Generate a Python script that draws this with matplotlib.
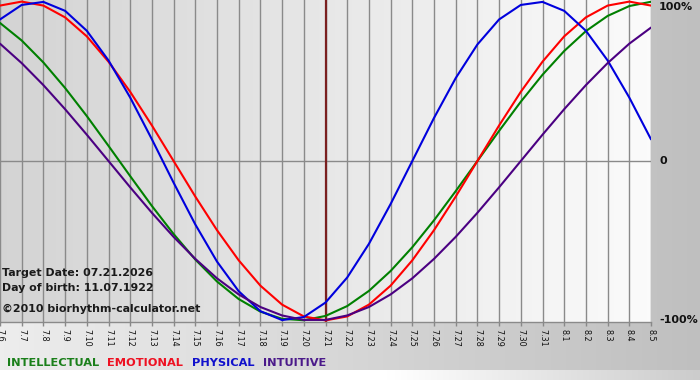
import matplotlib
matplotlib.use('Agg')
import matplotlib.pyplot as plt
import numpy as np
from matplotlib.transforms import blended_transform_factory

# ---- data ----
dates = ['7.6', '7.7', '7.8', '7.9', '7.10', '7.11', '7.12', '7.13', '7.14', '7.15',
         '7.16', '7.17', '7.18', '7.19', '7.20', '7.21', '7.22', '7.23', '7.24', '7.25',
         '7.26', '7.27', '7.28', '7.29', '7.30', '7.31', '8.1', '8.2', '8.3', '8.4', '8.5']

physical = [0.888, 0.979, 0.998, 0.942, 0.817, 0.631, 0.398, 0.136, -0.136, -0.398,
            -0.631, -0.817, -0.942, -0.998, -0.979, -0.888, -0.731, -0.520, -0.270, 0.0,
            0.270, 0.520, 0.731, 0.888, 0.979, 0.998, 0.942, 0.817, 0.631, 0.398, 0.136]

emotional = [0.975, 1.0, 0.975, 0.901, 0.782, 0.623, 0.434, 0.223, 0.0, -0.223,
             -0.434, -0.623, -0.782, -0.901, -0.975, -1.0, -0.975, -0.901, -0.782, -0.623,
             -0.434, -0.223, 0.0, 0.223, 0.434, 0.623, 0.782, 0.901, 0.975, 1.0, 0.975]

intellectual = [0.866, 0.756, 0.618, 0.458, 0.282, 0.095, -0.095, -0.282, -0.458, -0.618,
                -0.756, -0.866, -0.945, -0.990, -0.999, -0.972, -0.910, -0.815, -0.690, -0.541,
                -0.372, -0.189, 0.0, 0.189, 0.372, 0.541, 0.690, 0.815, 0.910, 0.972, 0.999]

intuitive = [0.736, 0.614, 0.476, 0.325, 0.165, 0.0, -0.165, -0.325, -0.476, -0.614,
             -0.736, -0.837, -0.916, -0.969, -0.997, -0.997, -0.969, -0.916, -0.837, -0.736,
             -0.614, -0.476, -0.325, -0.165, 0.0, 0.165, 0.325, 0.476, 0.614, 0.736, 0.837]

target_date = '7.21'
y_levels = [1, 0, -1]
y_level_labels = ['100%', '0', '-100%']
series_names = ['INTELLECTUAL', 'EMOTIONAL', 'PHYSICAL', 'INTUITIVE']
line_colors = ['#008000', '#ff0000', '#0000dd', '#4b0082']
legend_colors = ['#1a7f1a', '#ee1122', '#1010cc', '#4b1a8a']
info_lines = ['Target Date: 07.21.2026', 'Day of birth: 11.07.1922',
              '\u00a92010 biorhythm-calculator.net']

W, H = 700, 380
fig = plt.figure(figsize=(W / 100, H / 100), dpi=100)

# ---- figure background (gray gradient) ----
bg = fig.add_axes([0, 0, 1, 1], zorder=0)
bg.set_axis_off()
g = np.linspace(0.93, 0.75, 256).reshape(1, -1)
bg.imshow(np.dstack([g, g, g]), aspect='auto', extent=[0, 1, 0, 1],
          interpolation='bilinear')
# light strip at the very bottom
s = np.clip(np.linspace(1.25, 0.80, 256), 0.80, 1.0).reshape(1, -1)
bg.imshow(np.dstack([s, s, s]), aspect='auto', extent=[0, 1, 0, 10 / H],
          interpolation='bilinear')
bg.set_xlim(0, 1)
bg.set_ylim(0, 1)

# ---- main plot area ----
ax_w, ax_h = 651, 322
ax = fig.add_axes([0, 1 - ax_h / H, ax_w / W, ax_h / H], zorder=1)
ax.patch.set_visible(False)
n = len(dates)
x = np.arange(n)
ylo, yhi = -1.01, 1.01

pg = np.linspace(0.83, 0.985, 256).reshape(1, -1)
ax.imshow(np.dstack([pg, pg, pg]), aspect='auto', extent=[0, n - 1, ylo, yhi],
          interpolation='bilinear', zorder=0)

ax.set_xlim(0, n - 1)
ax.set_ylim(ylo, yhi)

ax.set_xticks(x)
ax.set_xticklabels(dates, rotation=270, fontsize=5.8, color='#111111',
                   ha='center', va='top')
ax.tick_params(axis='x', length=3, width=1, color='#888888', pad=2)
ax.set_yticks([])
ax.grid(axis='x', color='#8a8a8a', linewidth=1.0, zorder=1)
ax.axhline(0, color='#8a8a8a', linewidth=1.0, zorder=1)
for sp in ['top', 'left', 'right']:
    ax.spines[sp].set_visible(False)
ax.spines['bottom'].set_color('#8a8a8a')
ax.spines['bottom'].set_linewidth(1.0)

# target day marker
ax.axvline(dates.index(target_date), color='#7a1f1f', linewidth=1.6, zorder=2)

for vals, col in zip([intellectual, emotional, physical, intuitive], line_colors):
    ax.plot(x, vals, color=col, linewidth=1.5, zorder=3, solid_capstyle='round')

# right-hand level labels
tr = blended_transform_factory(ax.transAxes, ax.transData)
for lv, lab in zip(y_levels, y_level_labels):
    va = 'top' if lv == 1 else 'center'
    ax.text(1 + 8 / ax_w, lv, lab, transform=tr, ha='left', va=va,
            fontsize=8, fontweight='bold', color='#111111', clip_on=False)

# info text
for txt, base in zip(info_lines, [276, 291, 312]):
    fig.text(2 / W, 1 - base / H, txt, fontsize=7.9, fontweight='bold',
             color='#1a1a1a', ha='left', va='baseline', zorder=5)

# legend words
for name, col, x0 in zip(series_names, legend_colors, [7, 107, 192, 263]):
    fig.text(x0 / W, 1 - 366 / H, name, fontsize=8.2, fontweight='bold',
             color=col, ha='left', va='baseline', zorder=5)

fig.savefig('out.png', dpi=100)
